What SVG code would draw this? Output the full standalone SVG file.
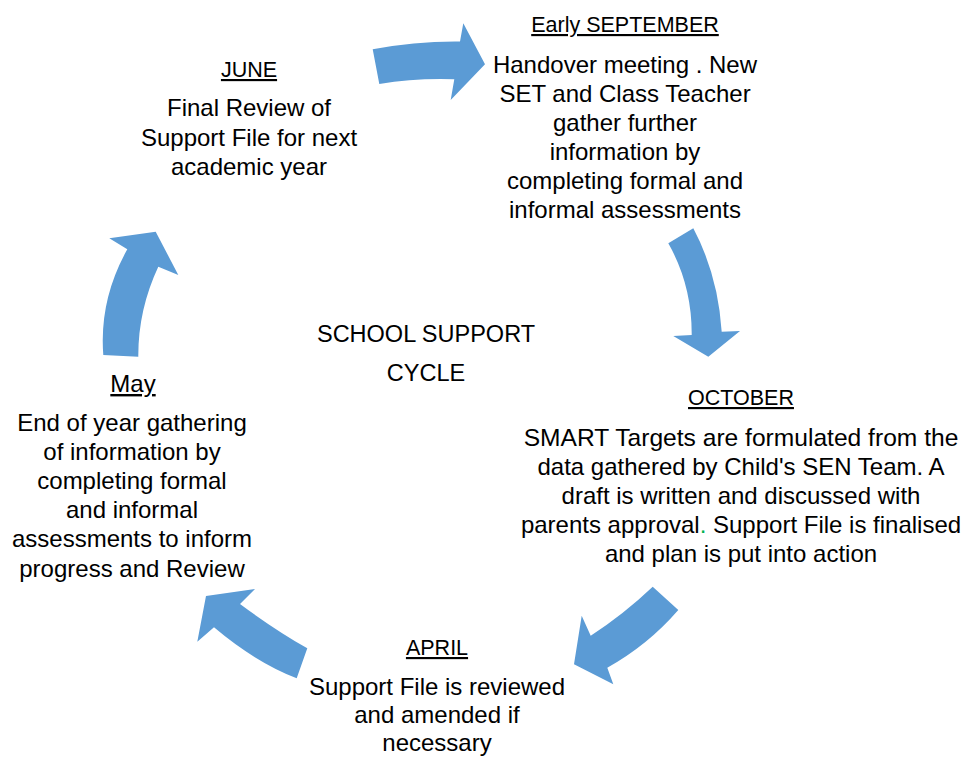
<svg xmlns="http://www.w3.org/2000/svg" width="967" height="758" viewBox="0 0 967 758">
<style>
.t{font-family:"Liberation Sans",Arial,sans-serif;font-size:24px;fill:#000;text-anchor:middle}
.h{text-decoration:underline}
.u{font-size:21.5px}
.c{font-size:23.5px}
.arrow{fill:#5B9BD5;stroke:none}
</style>
<rect width="967" height="758" fill="#fff"/>
<g id="connectors">
<path class="arrow" d="M372.7,49.3 Q416,41 460,41.5 L463.3,23.3 L485,64.3 L450.7,100 L454.3,79.3 Q415,78 379.3,84 Z"/>
<path class="arrow" d="M668.3,243.3 L693.3,228.3 Q718,275 721.7,331.7 L740,331 L708.3,356.7 L673.3,336 L691.7,335 Q692,285 668.3,243.3 Z"/>
<path class="arrow" d="M652.7,586.7 Q624,614 590.7,635.7 L581.7,615.7 L574,664.3 L613.3,684.3 L607.3,667.7 Q648,645 678.3,610 Z"/>
<path class="arrow" d="M307.3,648.3 Q275,630 240,604 L255,589 L206,596 L197.3,641.7 L214,627.3 Q255,662 296.7,678.3 Z"/>
<path class="arrow" d="M103.3,355 Q99,300 127.3,249.3 L109.3,238.3 L155.7,231.7 L178.3,275 L158.3,266.7 Q138,310 138.3,356.7 Z"/>
</g>
<g id="september">
<text class="t h u" x="625" y="32">Early SEPTEMBER</text>
<text class="t" x="625" y="73">Handover meeting . New</text>
<text class="t" x="625" y="102">SET and Class Teacher</text>
<text class="t" x="625" y="131">gather further</text>
<text class="t" x="625" y="160">information by</text>
<text class="t" x="625" y="189">completing formal and</text>
<text class="t" x="625" y="218">informal assessments</text>
</g>
<g id="june">
<text class="t h u" x="249" y="77">JUNE</text>
<text class="t" x="249" y="116">Final Review of</text>
<text class="t" x="249" y="146">Support File for next</text>
<text class="t" x="249" y="175">academic year</text>
</g>
<g id="center">
<text class="t c" x="426" y="342">SCHOOL SUPPORT</text>
<text class="t c" x="426" y="381">CYCLE</text>
</g>
<g id="october">
<text class="t h u" x="741" y="405">OCTOBER</text>
<text class="t" x="741" y="446" style="font-size:24.6px">SMART Targets are formulated from the</text>
<text class="t" x="741" y="475">data gathered by Child's SEN Team. A</text>
<text class="t" x="741" y="504">draft is written and discussed with</text>
<text class="t" x="741" y="533">parents approval<tspan fill="#00B050">.</tspan> Support File is finalised</text>
<text class="t" x="741" y="562">and plan is put into action</text>
</g>
<g id="may">
<text class="t h" x="133" y="392">May</text>
<text class="t" x="132" y="431">End of year gathering</text>
<text class="t" x="132" y="460">of information by</text>
<text class="t" x="132" y="489">completing formal</text>
<text class="t" x="132" y="518">and informal</text>
<text class="t" x="132" y="547">assessments to inform</text>
<text class="t" x="132" y="577">progress and Review</text>
</g>
<g id="april">
<text class="t h u" x="437" y="655">APRIL</text>
<text class="t" x="437" y="695">Support File is reviewed</text>
<text class="t" x="437" y="723">and amended if</text>
<text class="t" x="437" y="751">necessary</text>
</g>
</svg>
